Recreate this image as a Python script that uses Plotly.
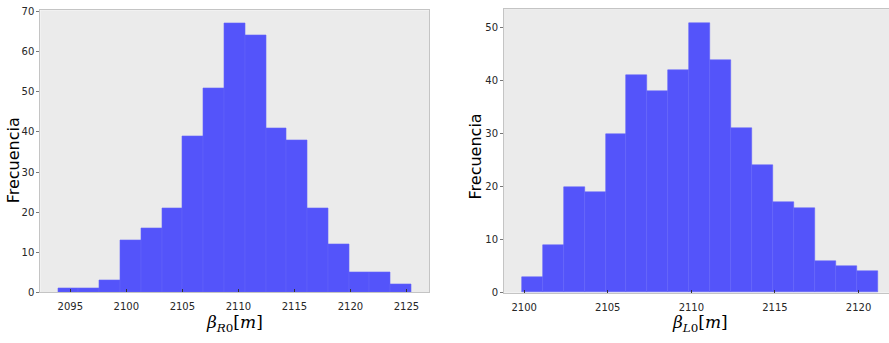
import numpy as np
import plotly.graph_objects as go

# Histogram of beta_R0 (17 bins)
r0_counts = [1, 1, 3, 13, 16, 21, 39, 51, 67, 64, 41, 38, 21, 12, 5, 5, 2]
r0_bin_start = 2093.90
r0_bin_width = 1.855

# Histogram of beta_L0 (17 bins)
l0_counts = [3, 9, 20, 19, 30, 41, 38, 42, 51, 44, 31, 24, 17, 16, 6, 5, 4]
l0_bin_start = 2099.86
l0_bin_width = 1.252

r0_ticks = [2095, 2100, 2105, 2110, 2115, 2120, 2125]
l0_ticks = [2100, 2105, 2110, 2115, 2120]
r0_yticks = [0, 10, 20, 30, 40, 50, 60, 70]
l0_yticks = [0, 10, 20, 30, 40, 50]

W, H = 889, 343
BAR = "rgb(84,84,250)"
EDGE = "rgb(98,98,250)"
BG = "#ebebeb"
SPINE = "#c4c4c4"


def centers(start, width, n):
    return start + width * (np.arange(n) + 0.5)


fig = go.Figure()
fig.add_trace(go.Bar(
    x=centers(r0_bin_start, r0_bin_width, len(r0_counts)), y=r0_counts,
    width=r0_bin_width, marker=dict(color=BAR, line=dict(color=EDGE, width=0.6)),
    xaxis="x", yaxis="y", showlegend=False))
fig.add_trace(go.Bar(
    x=centers(l0_bin_start, l0_bin_width, len(l0_counts)), y=l0_counts,
    width=l0_bin_width, marker=dict(color=BAR, line=dict(color=EDGE, width=0.6)),
    xaxis="x2", yaxis="y2", showlegend=False))

# matplotlib-like 5% x margins and 5% headroom above the tallest bar
r0_lo = r0_bin_start
r0_hi = r0_bin_start + r0_bin_width * len(r0_counts)
r0_pad = 0.05 * (r0_hi - r0_lo)
l0_lo = l0_bin_start
l0_hi = l0_bin_start + l0_bin_width * len(l0_counts)
l0_pad = 0.05 * (l0_hi - l0_lo)

# left panel pixel box
lx0, lx1, ly0, ly1 = 40.3, 429.0, 6.5, 297.0
# right panel pixel box (its right edge runs past the page)
rx0, ry0, ry1 = 504.0, 5.3, 297.3
r_full_right = 895.5
r_span = (l0_hi + l0_pad) - (l0_lo - l0_pad)
r_visible_hi = (l0_lo - l0_pad) + r_span * (W - rx0) / (r_full_right - rx0)

tickfont = dict(family="DejaVu Sans", size=10, color="#262626")
common_x = dict(showgrid=False, zeroline=False, showline=True, linecolor=SPINE,
                linewidth=1, ticks="inside", ticklen=3, tickwidth=1,
                tickcolor="#333333", tickfont=tickfont, ticklabelstandoff=5)
common_y = dict(showgrid=False, zeroline=False, showline=True, linecolor=SPINE,
                linewidth=1, ticks="outside", ticklen=3, tickwidth=1,
                tickcolor="#777777", tickfont=tickfont)

fig.update_layout(
    width=W, height=H, margin=dict(l=0, r=0, t=0, b=0),
    paper_bgcolor="white", plot_bgcolor=BG, bargap=0,
    xaxis=dict(domain=[lx0 / W, lx1 / W], range=[r0_lo - r0_pad, r0_hi + r0_pad],
               tickvals=r0_ticks, mirror=True, anchor="y", **common_x),
    yaxis=dict(domain=[(H - ly1) / H, (H - ly0) / H], range=[0, max(r0_counts) * 1.05],
               tickvals=r0_yticks, mirror=True, anchor="x", **common_y),
    xaxis2=dict(domain=[rx0 / W, 1.0], range=[l0_lo - l0_pad, r_visible_hi],
                tickvals=l0_ticks, mirror=True, anchor="y2", **common_x),
    yaxis2=dict(domain=[(H - ry1) / H, (H - ry0) / H], range=[0, max(l0_counts) * 1.05],
                tickvals=l0_yticks, mirror=False, anchor="x2", **common_y),
)

label_font = dict(family="DejaVu Sans", size=16, color="black")
math_font = dict(family="DejaVu Serif", size=17, color="black")

annotations = [
    dict(text="Frecuencia", x=13 / W, y=(H - 161) / H, textangle=-90, font=label_font),
    dict(text="Frecuencia", x=475 / W, y=(H - 157) / H, textangle=-90, font=label_font),
    dict(text="<i>β</i><sub><i>R</i>0</sub>[<i>m</i>]", x=(lx0 + lx1) / 2 / W,
         y=(H - 329) / H, font=math_font),
    dict(text="<i>β</i><sub><i>L</i>0</sub>[<i>m</i>]", x=(rx0 + r_full_right) / 2 / W,
         y=(H - 329) / H, font=math_font),
]
for a in annotations:
    a.update(xref="paper", yref="paper", showarrow=False, xanchor="center", yanchor="middle")
fig.update_layout(annotations=annotations)

fig.write_html("out.html")
